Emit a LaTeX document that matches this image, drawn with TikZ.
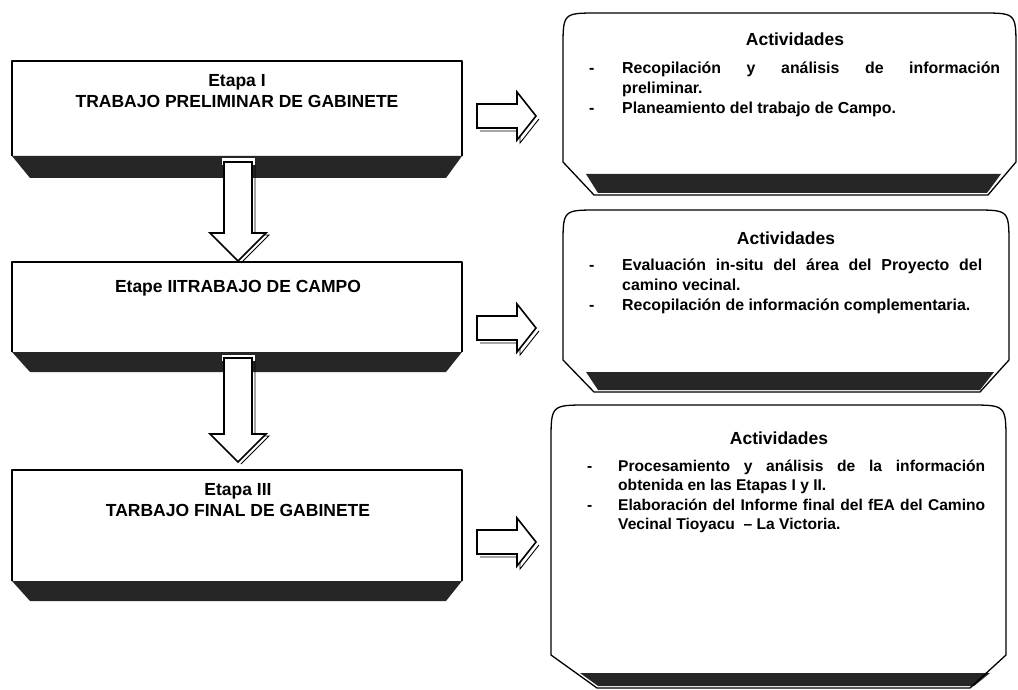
\documentclass[tikz,border=0pt]{standalone}
\usepackage{fontspec}
\setmainfont{Liberation Sans}
\newcommand\actitem[2][33pt]{\noindent\hangindent=#1\hangafter=1\makebox[#1][l]{-}#2\par}
\tolerance=9999
\hyphenpenalty=10000
\tikzset{
  boxline/.style={line width=1.3pt, line join=round},
  bandfill/.style={fill=black!85},
  blockarrow/.style={fill=white, draw=black, line width=1.6pt, line join=miter},
  arrowshadow/.style={draw=black, line width=0.9pt},
  halo/.style={draw=white, line width=5pt},
  stagetext/.style={font=\bfseries\fontsize{17.5}{21}\selectfont, align=center, inner sep=0pt, anchor=north},
  acthead/.style={font=\bfseries\fontsize{17.5}{21}\selectfont, inner sep=0pt, anchor=base},
  actlist/.style={font=\bfseries\fontsize{15.9}{20}\selectfont, align=justify, inner sep=0pt, anchor=north west},
}
\begin{document}
\begin{tikzpicture}[x=1pt,y=-1pt]
\useasboundingbox (0,0) rectangle (1018,690);

% ---------- left stage boxes ----------
\fill[white] (12,61) rectangle (462,178);
\draw[boxline] (12,156) -- (12,61) -- (462,61) -- (462,156);
\fill[bandfill] (12,156) -- (462,156) -- (446,178) -- (30,178) -- cycle;

\draw[boxline] (12,352) -- (12,262) -- (462,262) -- (462,352);
\fill[bandfill] (12,352) -- (462,352) -- (446,372) -- (30,372) -- cycle;

\draw[boxline] (12,581) -- (12,470) -- (462,470) -- (462,581);
\fill[bandfill] (12,581) -- (462,581) -- (446,601) -- (30,601) -- cycle;

\node[stagetext] (s1) at (237,73) {\rule{0pt}{13pt}Etapa I\\TRABAJO PRELIMINAR DE GABINETE};
\node[stagetext] (s2) at (238,279) {\rule{0pt}{13pt}Etape IITRABAJO DE CAMPO};
\node[stagetext] (s3) at (238,482) {\rule{0pt}{13pt}Etapa III\\TARBAJO FINAL DE GABINETE};

% ---------- down arrows ----------
\draw[halo] (224,165) -- (224,161) -- (252,161) -- (252,165);
\draw[arrowshadow] (255,165) -- (255,235) -- (269,235) -- (241,263);
\draw[blockarrow] (224,162) -- (252,162) -- (252,233) -- (266,233) -- (238,261) -- (210,233) -- (224,233) -- cycle;

\draw[halo] (224,361) -- (224,357) -- (252,357) -- (252,361);
\draw[arrowshadow] (255,361) -- (255,436) -- (269,436) -- (241,464);
\draw[blockarrow] (224,358) -- (252,358) -- (252,434) -- (266,434) -- (238,462) -- (210,434) -- (224,434) -- cycle;

% ---------- right arrows ----------
\draw[arrowshadow] (480,131) -- (520,131) -- (520,143) -- (539,119);
\draw[blockarrow] (477,104) -- (517,104) -- (517,92) -- (536,116) -- (517,140) -- (517,128) -- (477,128) -- cycle;

\draw[arrowshadow] (480,343) -- (520,343) -- (520,355) -- (539,331);
\draw[blockarrow] (477,316) -- (517,316) -- (517,304) -- (536,328) -- (517,352) -- (517,340) -- (477,340) -- cycle;

\draw[arrowshadow] (480,557) -- (520,557) -- (520,569) -- (539,545);
\draw[blockarrow] (477,530) -- (517,530) -- (517,518) -- (536,542) -- (517,566) -- (517,554) -- (477,554) -- cycle;

% ---------- right activity boxes ----------
\fill[bandfill] (586,174) -- (1001,174) -- (987,193) -- (598,193) -- cycle;
\draw[boxline] (594,195) -- (563,162) -- (563,48) .. controls (563,13) and (563,13) .. (598,13)
  -- (981,13) .. controls (1016,13) and (1016,13) .. (1016,48) -- (1016,162) -- (988,195) -- cycle;

\fill[bandfill] (586,372) -- (994,372) -- (980,390) -- (598,390) -- cycle;
\draw[boxline] (594,392) -- (563,360) -- (563,245) .. controls (563,210) and (563,210) .. (598,210)
  -- (974,210) .. controls (1009,210) and (1009,210) .. (1009,245) -- (1009,360) -- (980,392) -- cycle;

\fill[bandfill] (580,673) -- (990,673) -- (974,686) -- (598,686) -- cycle;
\draw[boxline] (597,688) -- (551,655) -- (551,442) .. controls (551,405) and (551,405) .. (588,405)
  -- (969,405) .. controls (1006,405) and (1006,405) .. (1006,442) -- (1006,655) -- (970,688) -- cycle;

\node[acthead] (h1) at (795,46) {Actividades};
\node[acthead] (h2) at (786,244) {Actividades};
\node[acthead] (h3) at (779,444) {Actividades};

\node[actlist, text width=411pt] (l1) at (589,58) {%
\actitem{\rule{0pt}{15pt}Recopilación y análisis de información\linebreak preliminar.}%
\actitem{Planeamiento del trabajo de Campo.}};

\node[actlist, text width=393pt] (l2) at (589,255) {%
\actitem{\rule{0pt}{15pt}Evaluación in-situ del área del Proyecto del\linebreak camino vecinal.}%
\actitem{Recopilación de información complementaria.}};

\node[actlist, text width=398pt, font=\bfseries\fontsize{15.6}{19.5}\selectfont] (l3) at (587,456) {%
\actitem[31pt]{\rule{0pt}{15pt}Procesamiento y análisis de la información\linebreak obtenida en las Etapas I y II.}%
\actitem[31pt]{Elaboración del Informe final del fEA del Camino\linebreak Vecinal Tioyacu \ – La Victoria.}};
\end{tikzpicture}
\end{document}
